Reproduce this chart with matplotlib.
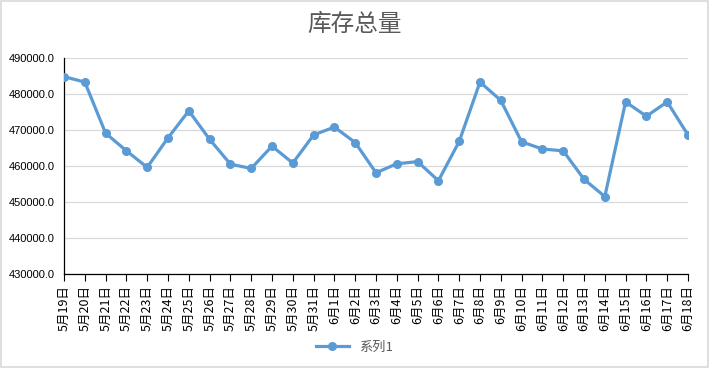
import matplotlib
matplotlib.use("Agg")
import matplotlib.pyplot as plt
from matplotlib.patches import Rectangle

plt.rcParams['font.family'] = ['Liberation Sans', 'Noto Sans CJK SC', 'DejaVu Sans']

dates = ["5月19日", "5月20日", "5月21日", "5月22日", "5月23日", "5月24日", "5月25日",
         "5月26日", "5月27日", "5月28日", "5月29日", "5月30日", "5月31日", "6月1日",
         "6月2日", "6月3日", "6月4日", "6月5日", "6月6日", "6月7日", "6月8日", "6月9日",
         "6月10日", "6月11日", "6月12日", "6月13日", "6月14日", "6月15日", "6月16日",
         "6月17日", "6月18日"]
values = [484900, 483400, 469200, 464300, 459700, 467900, 475400,
          467500, 460600, 459400, 465600, 460900, 468700, 470900,
          466600, 458200, 460700, 461300, 456000, 466900, 483400, 478300,
          466800, 464800, 464300, 456400, 451600, 477900, 473900,
          477900, 468700]
yticks = [430000, 440000, 450000, 460000, 470000, 480000, 490000]
title = "库存总量"
series_name = "系列1"

fig = plt.figure(figsize=(7.09, 3.68), dpi=100)
ax = fig.add_axes([64/709, 1-274.3/368, (688-64)/709, (274.3-58.3)/368])

x = list(range(len(dates)))
ax.plot(x, values, color='#5b9bd5', lw=2.3, marker='o', ms=5.5, label=series_name,
        solid_joinstyle='round', zorder=3)

ax.set_xlim(0, len(dates)-1)
ax.set_ylim(yticks[0], yticks[-1])
ax.set_yticks(yticks)
ax.set_yticklabels([f"{v:.1f}" for v in yticks], fontsize=8, color='#000000')
ax.tick_params(axis='y', length=0, pad=7)
ax.set_xticks(x)
ax.set_xticklabels(dates, rotation=90, fontsize=9, color='#000000',
                   family=['Noto Sans CJK SC', 'DejaVu Sans'])
ax.tick_params(axis='x', length=5, width=0.8, direction='out', pad=3, color='black')

ax.grid(axis='y', color='#d9d9d9', lw=0.9)
ax.set_axisbelow(True)
for s in ['top', 'right']:
    ax.spines[s].set_visible(False)
ax.spines['left'].set_color('black')
ax.spines['bottom'].set_color('black')
ax.spines['left'].set_linewidth(0.9)
ax.spines['bottom'].set_linewidth(0.9)

fig.text(0.5, 1-24/368, title, ha='center', va='center', fontsize=17, color='#595959',
         family=['Noto Sans CJK SC'], fontweight='medium')

leg = fig.legend(loc='center', bbox_to_anchor=(0.5, 1-347/368), frameon=False,
                 handlelength=2.5, prop={'family': ['Noto Sans CJK SC', 'DejaVu Sans'], 'size': 9.5})
for t in leg.get_texts():
    t.set_color('#595959')

fig.patches.append(Rectangle((0.001, 0.002), 0.997, 0.995, transform=fig.transFigure,
                             fill=False, edgecolor='#d9d9d9', lw=1.2))

fig.savefig("out.png", dpi=100)
